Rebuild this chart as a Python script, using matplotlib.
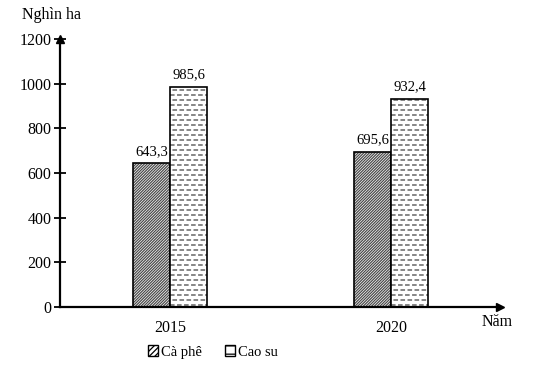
import matplotlib.pyplot as plt
import numpy as np
from matplotlib.patches import Patch

years = ["2015", "2020"]
ca_phe = [643.3, 695.6]
cao_su = [985.6, 932.4]
series_names = ["Cà phê", "Cao su"]
y_ticks = [0, 200, 400, 600, 800, 1000, 1200]

plt.rcParams["font.family"] = ["Liberation Serif", "DejaVu Serif"]
plt.rcParams["hatch.linewidth"] = 0.9


def fmt(v):
    return f"{v:.1f}".replace(".", ",")


fig = plt.figure(figsize=(5.35, 3.69), dpi=100)
W, H = 535, 369
ax = fig.add_axes([60 / W, (H - 307) / H, (500 - 60) / W, (307 - 39) / H])

x = np.arange(len(years))
w = 0.167

# ca phe: dense diagonal hatch
ax.bar(x - w / 2, ca_phe, w, color="white", edgecolor="#4a4a4a", hatch="/" * 12, linewidth=0)
ax.bar(x - w / 2, ca_phe, w, color="none", edgecolor="black", linewidth=1.2)

# cao su: rows of short gray dashes, clipped to each bar
bg = ax.bar(x + w / 2, cao_su, w, color="white", edgecolor="none", linewidth=0)
for k, (rect, v) in enumerate(zip(bg.patches, cao_su)):
    ys = np.arange(8, v, 22.4)
    for j, yy in enumerate(ys):
        ln = ax.hlines(yy, rect.get_x(), rect.get_x() + w, colors="#666666", linewidth=1.1,
                       linestyles=[((j % 2) * 3.0, (3.0, 1.6))])
        ln.set_clip_path(rect)
ax.bar(x + w / 2, cao_su, w, color="none", edgecolor="black", linewidth=1.2, zorder=3)

for xi, v in zip(x - w / 2, ca_phe):
    ax.text(xi, v + 25, fmt(v), ha="center", va="bottom", fontsize=10.5)
for xi, v in zip(x + w / 2, cao_su):
    ax.text(xi, v + 25, fmt(v), ha="center", va="bottom", fontsize=10.5)

ax.set_xlim(-0.498, 1.493)
ax.set_ylim(0, 1200)
ax.set_yticks(y_ticks)
ax.set_yticklabels([str(t) for t in y_ticks], fontsize=11.5)
ax.set_xticks(x)
ax.set_xticklabels(years, fontsize=11.5)
ax.tick_params(axis="y", direction="inout", length=8, width=1.3, pad=2)
ax.tick_params(axis="x", length=0, pad=9)

for s in ["top", "right"]:
    ax.spines[s].set_visible(False)
ax.spines["left"].set_linewidth(1.6)
ax.spines["bottom"].set_linewidth(1.6)
ax.spines["bottom"].set_zorder(4)
ax.patch.set_alpha(0)

# axis arrows
ax.plot(1, 0, ">k", transform=ax.transAxes, clip_on=False, markersize=6)
ax.plot(0, 1, "^k", transform=ax.transAxes, clip_on=False, markersize=6)

fig.text(52 / W, 1 - 15 / H, "Nghìn ha", ha="center", va="center", fontsize=11.5)
fig.text(497 / W, 1 - 322 / H, "Năm", ha="center", va="center", fontsize=11.5)

handles = [
    Patch(facecolor="white", edgecolor="black", hatch="//////", label=series_names[0]),
    Patch(facecolor="white", edgecolor="black", hatch="--", label=series_names[1]),
]
fig.legend(handles=handles, loc="center", bbox_to_anchor=(213 / W, 1 - 352 / H), ncol=2,
           frameon=False, fontsize=10.5, handlelength=0.7, handleheight=0.7,
           handletextpad=0.2, columnspacing=1.6)

fig.savefig("out.png", dpi=100)
